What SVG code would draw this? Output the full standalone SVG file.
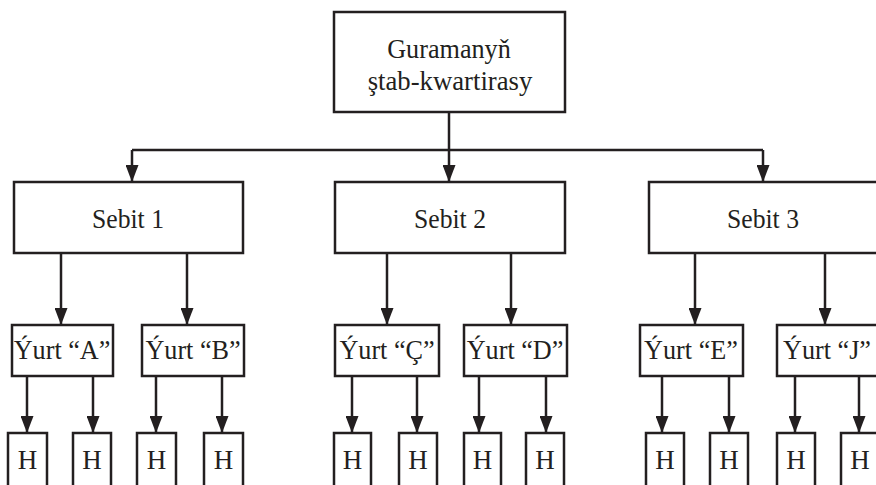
<svg xmlns="http://www.w3.org/2000/svg" width="876" height="485" viewBox="0 0 876 485">
<style>
.box{fill:#fff;stroke:#231f20;stroke-width:2.5}
.t{font-family:"Liberation Serif","Times New Roman",serif;font-size:27px;fill:#231f20;text-anchor:middle}
.c{fill:none;stroke:#231f20;stroke-width:2.5}
</style>
<defs>
<marker id="ah" viewBox="0 0 17 13" refX="17" refY="6.5" markerWidth="17" markerHeight="13" markerUnits="userSpaceOnUse" orient="auto">
<path d="M0,0 L17,6.5 L0,13 z" fill="#231f20"/>
</marker>
</defs>
<rect width="876" height="485" fill="#fff"/>
<g id="connectors">
<path class="c" d="M132,150 H763"/>
<path class="c" d="M449,112 V182" marker-end="url(#ah)"/>
<path class="c" d="M132,150 V182" marker-end="url(#ah)"/>
<path class="c" d="M763,150 V182" marker-end="url(#ah)"/>
<path class="c" d="M61,254 V325" marker-end="url(#ah)"/>
<path class="c" d="M187,254 V325" marker-end="url(#ah)"/>
<path class="c" d="M387,254 V325" marker-end="url(#ah)"/>
<path class="c" d="M511,254 V325" marker-end="url(#ah)"/>
<path class="c" d="M695,254 V325" marker-end="url(#ah)"/>
<path class="c" d="M825,254 V325" marker-end="url(#ah)"/>
<path class="c" d="M27,376 V433" marker-end="url(#ah)"/>
<path class="c" d="M93,376 V433" marker-end="url(#ah)"/>
<path class="c" d="M156,376 V433" marker-end="url(#ah)"/>
<path class="c" d="M222,376 V433" marker-end="url(#ah)"/>
<path class="c" d="M352,376 V433" marker-end="url(#ah)"/>
<path class="c" d="M417,376 V433" marker-end="url(#ah)"/>
<path class="c" d="M479,376 V433" marker-end="url(#ah)"/>
<path class="c" d="M546,376 V433" marker-end="url(#ah)"/>
<path class="c" d="M662,376 V433" marker-end="url(#ah)"/>
<path class="c" d="M729,376 V433" marker-end="url(#ah)"/>
<path class="c" d="M795,376 V433" marker-end="url(#ah)"/>
<path class="c" d="M859,376 V433" marker-end="url(#ah)"/>
</g>
<g id="hq"><rect class="box" x="334" y="12" width="231" height="100"/><text class="t" transform="translate(449,58) scale(0.97,1.04)">Guramanyň</text><text class="t" transform="translate(450,90) scale(0.99,1.04)">ştab-kwartirasy</text></g>
<g id="sebit1"><rect class="box" x="14" y="182" width="229" height="71"/><text class="t" transform="translate(128,228) scale(0.95,1.04)">Sebit 1</text></g>
<g id="sebit2"><rect class="box" x="335" y="182" width="230" height="71"/><text class="t" transform="translate(450,228) scale(0.95,1.04)">Sebit 2</text></g>
<g id="sebit3"><rect class="box" x="649" y="182" width="232" height="71"/><text class="t" transform="translate(763,228) scale(0.95,1.04)">Sebit 3</text></g>
<g id="yurtA"><rect class="box" x="12" y="325" width="101" height="51"/><text class="t" transform="translate(62,359) scale(0.97,1.04)">Ýurt “A”</text></g>
<g id="yurtB"><rect class="box" x="142" y="325" width="102" height="51"/><text class="t" transform="translate(193,359) scale(0.97,1.04)">Ýurt “B”</text></g>
<g id="yurtC"><rect class="box" x="335" y="325" width="104" height="51"/><text class="t" transform="translate(387,359) scale(0.97,1.04)">Ýurt “Ç”</text></g>
<g id="yurtD"><rect class="box" x="464" y="325" width="103" height="51"/><text class="t" transform="translate(515,359) scale(0.97,1.04)">Ýurt “D”</text></g>
<g id="yurtE"><rect class="box" x="640" y="325" width="103" height="51"/><text class="t" transform="translate(691,359) scale(0.97,1.04)">Ýurt “E”</text></g>
<g id="yurtJ"><rect class="box" x="777" y="325" width="103" height="51"/><text class="t" transform="translate(827,359) scale(0.97,1.04)">Ýurt “J”</text></g>
<g id="h1"><rect class="box" x="8" y="433" width="39" height="60"/><text class="t" x="27.5" y="469">H</text></g>
<g id="h2"><rect class="box" x="73" y="433" width="38" height="60"/><text class="t" x="92" y="469">H</text></g>
<g id="h3"><rect class="box" x="137" y="433" width="39" height="60"/><text class="t" x="156.5" y="469">H</text></g>
<g id="h4"><rect class="box" x="204" y="433" width="39" height="60"/><text class="t" x="223.5" y="469">H</text></g>
<g id="h5"><rect class="box" x="334" y="433" width="37" height="60"/><text class="t" x="352.5" y="469">H</text></g>
<g id="h6"><rect class="box" x="399" y="433" width="38" height="60"/><text class="t" x="418" y="469">H</text></g>
<g id="h7"><rect class="box" x="464" y="433" width="37" height="60"/><text class="t" x="482.5" y="469">H</text></g>
<g id="h8"><rect class="box" x="526" y="433" width="38" height="60"/><text class="t" x="545" y="469">H</text></g>
<g id="h9"><rect class="box" x="646" y="433" width="38" height="60"/><text class="t" x="665" y="469">H</text></g>
<g id="h10"><rect class="box" x="710" y="433" width="38" height="60"/><text class="t" x="729" y="469">H</text></g>
<g id="h11"><rect class="box" x="777" y="433" width="38" height="60"/><text class="t" x="796" y="469">H</text></g>
<g id="h12"><rect class="box" x="841" y="433" width="38" height="60"/><text class="t" x="860" y="469">H</text></g>
</svg>
